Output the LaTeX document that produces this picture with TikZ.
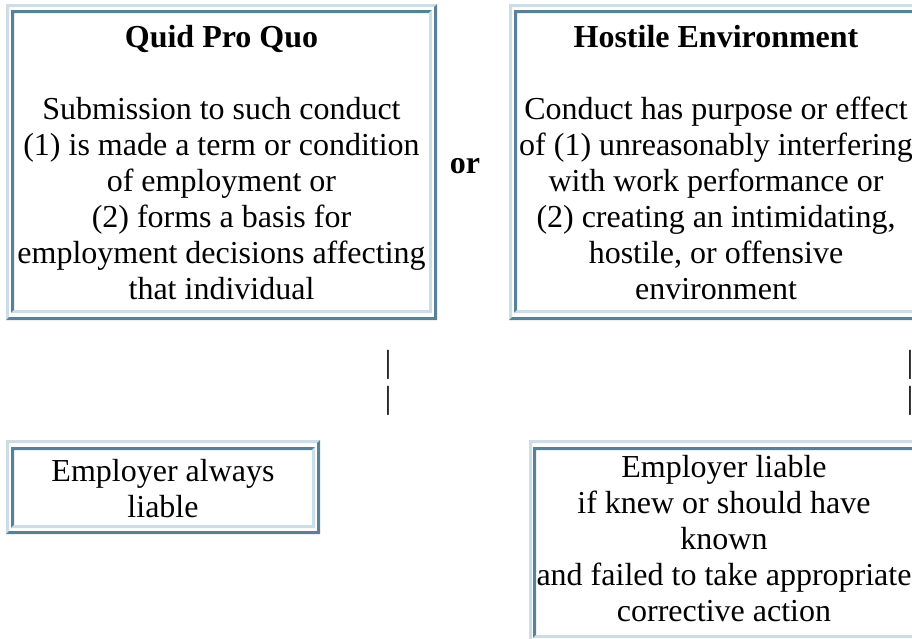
\documentclass[tikz,border=0pt]{standalone}
\usepackage{fontspec}
\setmainfont{Liberation Serif}
\definecolor{bvlight}{RGB}{205,221,229}
\definecolor{bvdark}{RGB}{88,129,151}
\newcommand\linesblock[1]{\vtop{\baselineskip=36pt\lineskiplimit=-100pt\let\\\cr\halign{\hfil##\hfil\cr#1\crcr}}}
% bevel frame: x1 y1 x2 y2 top-left colour, bottom-right colour
\newcommand\bevel[6]{%
  \fill[#5] (#1,#2) -- (#3,#2) -- (#3-3,#2+3) -- (#1+3,#2+3) -- (#1+3,#4-3) -- (#1,#4) -- cycle;
  \fill[#6] (#3,#2) -- (#3,#4) -- (#1,#4) -- (#1+3,#4-3) -- (#3-3,#4-3) -- (#3-3,#2+3) -- cycle;}
\tikzset{txt/.style={anchor=base,inner sep=0pt,font=\fontsize{32}{36}\selectfont}}
\begin{document}
\begin{tikzpicture}[x=1pt,y=-1pt]
\useasboundingbox[clip] (0,0) rectangle (912,638);
\fill[white] (0,0) rectangle (912,638);
% box 1 Quid Pro Quo
\bevel{6}{4}{437}{320}{bvlight}{bvdark}
\bevel{11}{10}{432}{313}{bvdark}{bvlight}
% box 2 Hostile Environment
\bevel{509}{4}{923}{320}{bvlight}{bvdark}
\bevel{514}{10}{918}{313}{bvdark}{bvlight}
% box 3
\bevel{6}{440}{320}{534}{bvlight}{bvdark}
\bevel{11}{447}{315}{528}{bvdark}{bvlight}
% box 4
\bevel{529}{440}{925}{645}{bvlight}{bvdark}
\bevel{533}{447}{920}{638}{bvdark}{bvlight}

\node[txt] (qpq) at (221.5,47) {\linesblock{\textbf{Quid Pro Quo}\\ \\
Submission to such conduct\\
(1) is made a term or condition\\
of employment or\\
(2) forms a basis for\\
employment decisions affecting\\
that individual}};
\node[txt] (or) at (465,173) {\textbf{or}};
\node[txt] (he) at (716,47) {\linesblock{\textbf{Hostile Environment}\\ \\
Conduct has purpose or effect\\
of (1) unreasonably interfering\\
with work performance or\\
(2) creating an intimidating,\\
hostile, or offensive\\
environment}};
\node[txt] (p1) at (388,372.5) {|};
\node[txt] (p2) at (388,408.5) {|};
\node[txt] (p3) at (910,372.5) {|};
\node[txt] (p4) at (910,408.5) {|};
\node[txt] (always) at (163,481) {\linesblock{Employer always\\ liable}};
\node[txt] (liable) at (724,477) {\linesblock{Employer liable\\
if knew or should have\\
known\\
and failed to take appropriate\\
corrective action}};
\end{tikzpicture}
\end{document}
